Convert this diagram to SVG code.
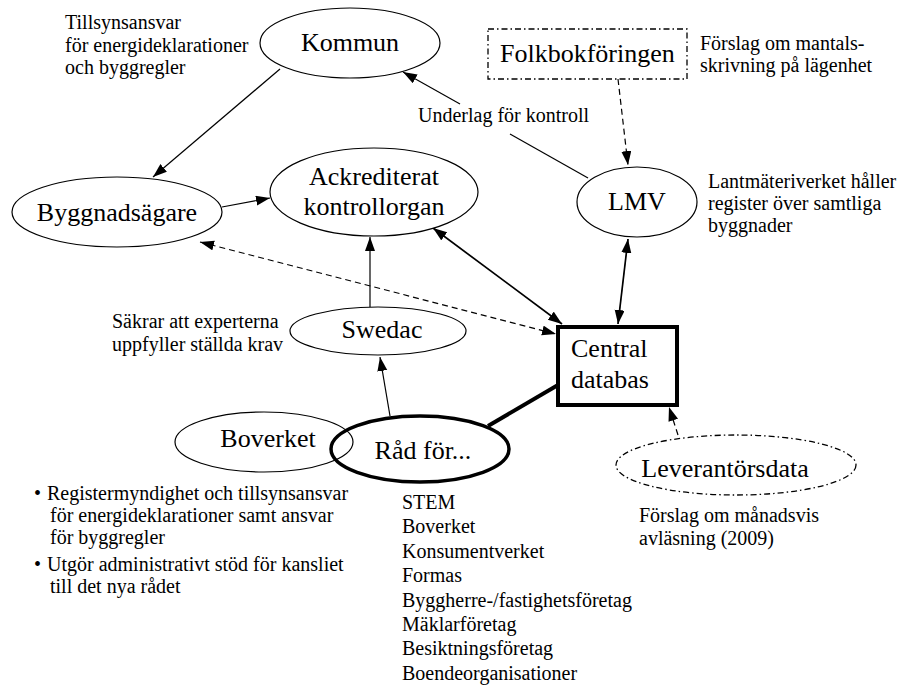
<svg xmlns="http://www.w3.org/2000/svg" width="914" height="686" viewBox="0 0 914 686">
<style>
text{font-family:"Liberation Serif","Times New Roman",serif;fill:#000}
.big{font-size:26px}
.sm{font-size:20px}
.mid{text-anchor:middle}
.node{fill:#fff;stroke:#000;stroke-width:1.2}
.thick{fill:#fff;stroke:#000;stroke-width:4}
.dd{fill:#fff;stroke:#000;stroke-width:1.3;stroke-dasharray:6,3,1.5,3}
.ln{fill:none;stroke:#000;stroke-width:1.2}
.ln2{fill:none;stroke:#000;stroke-width:1.7}
.dash{fill:none;stroke:#000;stroke-width:1.2;stroke-dasharray:6,4}
</style>
<defs>
<marker id="ah" markerUnits="userSpaceOnUse" markerWidth="15" markerHeight="11" refX="14" refY="5" orient="auto-start-reverse" viewBox="0 0 15 11">
<path d="M0,0 L14,5 L0,10 z" fill="#000"/>
</marker>
</defs>
<rect width="914" height="686" fill="#fff"/>

<g id="connectors">
<line class="ln" x1="280" y1="69" x2="153" y2="177" marker-end="url(#ah)"/>
<line class="ln" x1="222" y1="207" x2="270" y2="198" marker-end="url(#ah)"/>
<line class="ln" x1="588" y1="178" x2="510" y2="134"/>
<line class="ln" x1="460" y1="104" x2="403" y2="72" marker-end="url(#ah)"/>
<line class="dash" x1="618" y1="79" x2="628" y2="165" marker-end="url(#ah)"/>
<line class="ln2" x1="628" y1="239" x2="618" y2="324" marker-start="url(#ah)" marker-end="url(#ah)"/>
<line class="ln2" x1="433" y1="228" x2="562" y2="324" marker-start="url(#ah)" marker-end="url(#ah)"/>
<line class="dash" x1="200" y1="242" x2="556" y2="334" marker-start="url(#ah)" marker-end="url(#ah)"/>
<line class="ln" x1="370" y1="307" x2="370" y2="237" marker-end="url(#ah)"/>
<line class="ln" x1="390" y1="416" x2="380" y2="357" marker-end="url(#ah)"/>
<line fill="none" stroke="#000" stroke-width="4" x1="488" y1="426" x2="558" y2="385"/>
<line class="dash" x1="678" y1="435" x2="669" y2="407" marker-end="url(#ah)"/>
</g>

<g id="kommun">
<ellipse class="node" cx="350" cy="43" rx="90" ry="35"/>
<text class="big mid" x="350" y="51">Kommun</text>
</g>
<g id="kommun-note">
<text class="sm" x="65" y="29">Tillsynsansvar</text>
<text class="sm" x="65" y="52">för energideklarationer</text>
<text class="sm" x="65" y="74">och byggregler</text>
</g>

<g id="folkbokforingen">
<rect class="dd" x="488" y="29" width="199" height="50"/>
<text class="big" x="500" y="62">Folkbokföringen</text>
</g>
<g id="folkbok-note">
<text class="sm" x="700" y="50">Förslag om mantals-</text>
<text class="sm" x="700" y="72">skrivning på lägenhet</text>
</g>

<g id="underlag-label">
<text class="sm" x="418" y="122">Underlag för kontroll</text>
</g>

<g id="byggnadsagare">
<ellipse class="node" cx="117" cy="212" rx="105" ry="35"/>
<text class="big mid" x="117" y="221">Byggnadsägare</text>
</g>

<g id="ackrediterat">
<ellipse class="node" cx="374" cy="192" rx="104" ry="44"/>
<text class="big mid" x="374" y="185">Ackrediterat</text>
<text class="big mid" x="374" y="215">kontrollorgan</text>
</g>

<g id="lmv">
<ellipse class="node" cx="637" cy="202" rx="60" ry="35"/>
<text class="big mid" x="637" y="210">LMV</text>
</g>
<g id="lmv-note">
<text class="sm" x="708" y="188">Lantmäteriverket håller</text>
<text class="sm" x="708" y="210">register över samtliga</text>
<text class="sm" x="708" y="232">byggnader</text>
</g>

<g id="swedac">
<ellipse class="node" cx="378" cy="331" rx="88" ry="24"/>
<text class="big mid" x="382" y="338">Swedac</text>
</g>
<g id="swedac-note">
<text class="sm" x="112" y="328">Säkrar att experterna</text>
<text class="sm" x="112" y="351">uppfyller ställda krav</text>
</g>

<g id="central-databas">
<rect class="thick" x="558" y="327" width="119" height="78"/>
<text class="big" x="571" y="357">Central</text>
<text class="big" x="571" y="388">databas</text>
</g>

<g id="boverket">
<ellipse class="node" cx="264" cy="442" rx="89" ry="30"/>
<text class="big mid" x="268" y="447">Boverket</text>
</g>

<g id="rad-for">
<ellipse fill="none" stroke="#000" stroke-width="3.5" cx="420" cy="449" rx="89" ry="33"/>
<text class="big mid" x="423" y="459">Råd för...</text>
</g>

<g id="leverantorsdata">
<ellipse class="dd" cx="736" cy="465" rx="120" ry="30"/>
<text class="big mid" x="725" y="477">Leverantörsdata</text>
</g>
<g id="leverantor-note">
<text class="sm" x="639" y="522">Förslag om månadsvis</text>
<text class="sm" x="639" y="545">avläsning (2009)</text>
</g>

<g id="boverket-note">
<text class="sm" x="34" y="500">•</text>
<text class="sm" x="47" y="500">Registermyndighet och tillsynsansvar</text>
<text class="sm" x="50" y="522">för energideklarationer samt ansvar</text>
<text class="sm" x="50" y="544">för byggregler</text>
<text class="sm" x="34" y="571">•</text>
<text class="sm" x="47" y="571">Utgör administrativt stöd för kansliet</text>
<text class="sm" x="50" y="593">till det nya rådet</text>
</g>

<g id="rad-members">
<text class="sm" x="402" y="509">STEM</text>
<text class="sm" x="402" y="533">Boverket</text>
<text class="sm" x="402" y="558">Konsumentverket</text>
<text class="sm" x="402" y="582">Formas</text>
<text class="sm" x="402" y="607">Byggherre-/fastighetsföretag</text>
<text class="sm" x="402" y="631">Mäklarföretag</text>
<text class="sm" x="402" y="655">Besiktningsföretag</text>
<text class="sm" x="402" y="680">Boendeorganisationer</text>
</g>
</svg>
